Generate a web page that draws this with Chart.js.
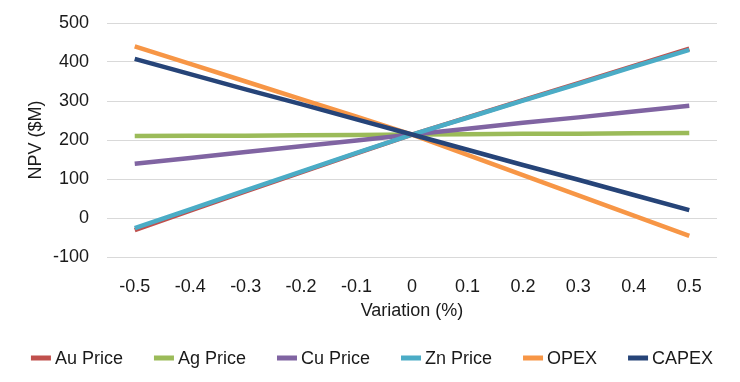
<!DOCTYPE html>
<html>
<head>
<meta charset="utf-8">
<script src="https://cdn.jsdelivr.net/npm/chart.js@4.4.1/dist/chart.umd.min.js"></script>
<style>
  html, body { margin: 0; padding: 0; background: #fff; }
  #wrap { width: 740px; height: 382px; }
</style>
</head>
<body>
<div id="wrap"><canvas id="npvChart"></canvas></div>
<script>
// x categories (variation)
const variation = ['-0.5', '-0.4', '-0.3', '-0.2', '-0.1', '0', '0.1', '0.2', '0.3', '0.4', '0.5'];

// NPV ($M) per sensitivity
const auPrice = [-31, 19, 68, 117, 166, 214, 258, 302, 346, 390, 434];
const agPrice = [210, 211, 211, 212, 213, 214, 215, 216, 216, 217, 218];
const cuPrice = [139, 154, 169, 184, 199, 214, 229, 244, 258, 273, 288];
const znPrice = [-26, 22, 71, 119, 167, 214, 257, 301, 344, 388, 431];
const opex = [440, 395, 350, 305, 260, 214, 162, 110, 58, 6, -46];
const capex = [408, 369, 330, 292, 253, 214, 175, 136, 98, 59, 20];

const yTicks = { min: -100, max: 500, step: 100 };

const FONT = "'Liberation Sans', Arial, sans-serif";
const TEXT = '#1a1a1a';

function series(label, data, color, order) {
  return {
    label: label,
    data: data,
    borderColor: color,
    backgroundColor: color,
    borderWidth: 4.5,
    pointRadius: 0,
    tension: 0,
    order: order
  };
}

// simple legend row drawn under the chart, like the Excel one
const bottomLegend = {
  id: 'bottomLegend',
  afterDraw(chart) {
    const ctx = chart.ctx;
    const y = 358;
    const gap = 31;
    ctx.save();
    ctx.font = '18px ' + FONT;
    ctx.textBaseline = 'middle';
    const items = chart.data.datasets.map(ds => ({
      text: ds.label, color: ds.borderColor, w: 24 + ctx.measureText(ds.label).width
    }));
    const total = items.reduce((s, it) => s + it.w, 0) + gap * (items.length - 1);
    let x = (chart.width - total) / 2 + 2;
    items.forEach(it => {
      ctx.fillStyle = it.color;
      ctx.fillRect(x, y - 2.5, 20, 5);
      ctx.fillStyle = TEXT;
      ctx.fillText(it.text, x + 24, y + 1);
      x += it.w + gap;
    });
    ctx.restore();
  }
};

new Chart('npvChart', {
  type: 'line',
  data: {
    labels: variation,
    datasets: [
      series('Au Price', auPrice, '#C0504D', 6),
      series('Ag Price', agPrice, '#9BBB59', 5),
      series('Cu Price', cuPrice, '#8064A2', 4),
      series('Zn Price', znPrice, '#4BACC6', 3),
      series('OPEX', opex, '#F79646', 2),
      series('CAPEX', capex, '#264478', 1)
    ]
  },
  options: {
    responsive: true,
    maintainAspectRatio: false,
    animation: false,
    layout: { padding: { left: 25, right: 23, top: 23, bottom: 50 } },
    plugins: {
      tooltip: { enabled: false },
      legend: { display: false }
    },
    scales: {
      x: {
        offset: true,
        grid: { display: false },
        border: { display: false },
        ticks: { font: { family: FONT, size: 18 }, color: TEXT, padding: 11, maxRotation: 0 },
        title: { display: true, text: 'Variation (%)', font: { family: FONT, size: 18 }, color: TEXT, padding: { top: 0, bottom: 10 } },
        afterFit: (scale) => { scale.height = 75; }
      },
      y: {
        min: yTicks.min,
        max: yTicks.max,
        grid: { color: '#D9D9D9', lineWidth: 1, drawTicks: false },
        border: { display: false },
        ticks: { stepSize: yTicks.step, font: { family: FONT, size: 18 }, color: TEXT, padding: 18 },
        title: { display: true, text: 'NPV ($M)', font: { family: FONT, size: 18 }, color: TEXT, padding: { top: 0, bottom: 0 } },
        afterFit: (scale) => {
          scale.width = 82;
          scale.paddingTop = 0;
          scale.paddingBottom = 0;
        }
      }
    }
  },
  plugins: [bottomLegend]
});
</script>
</body>
</html>
